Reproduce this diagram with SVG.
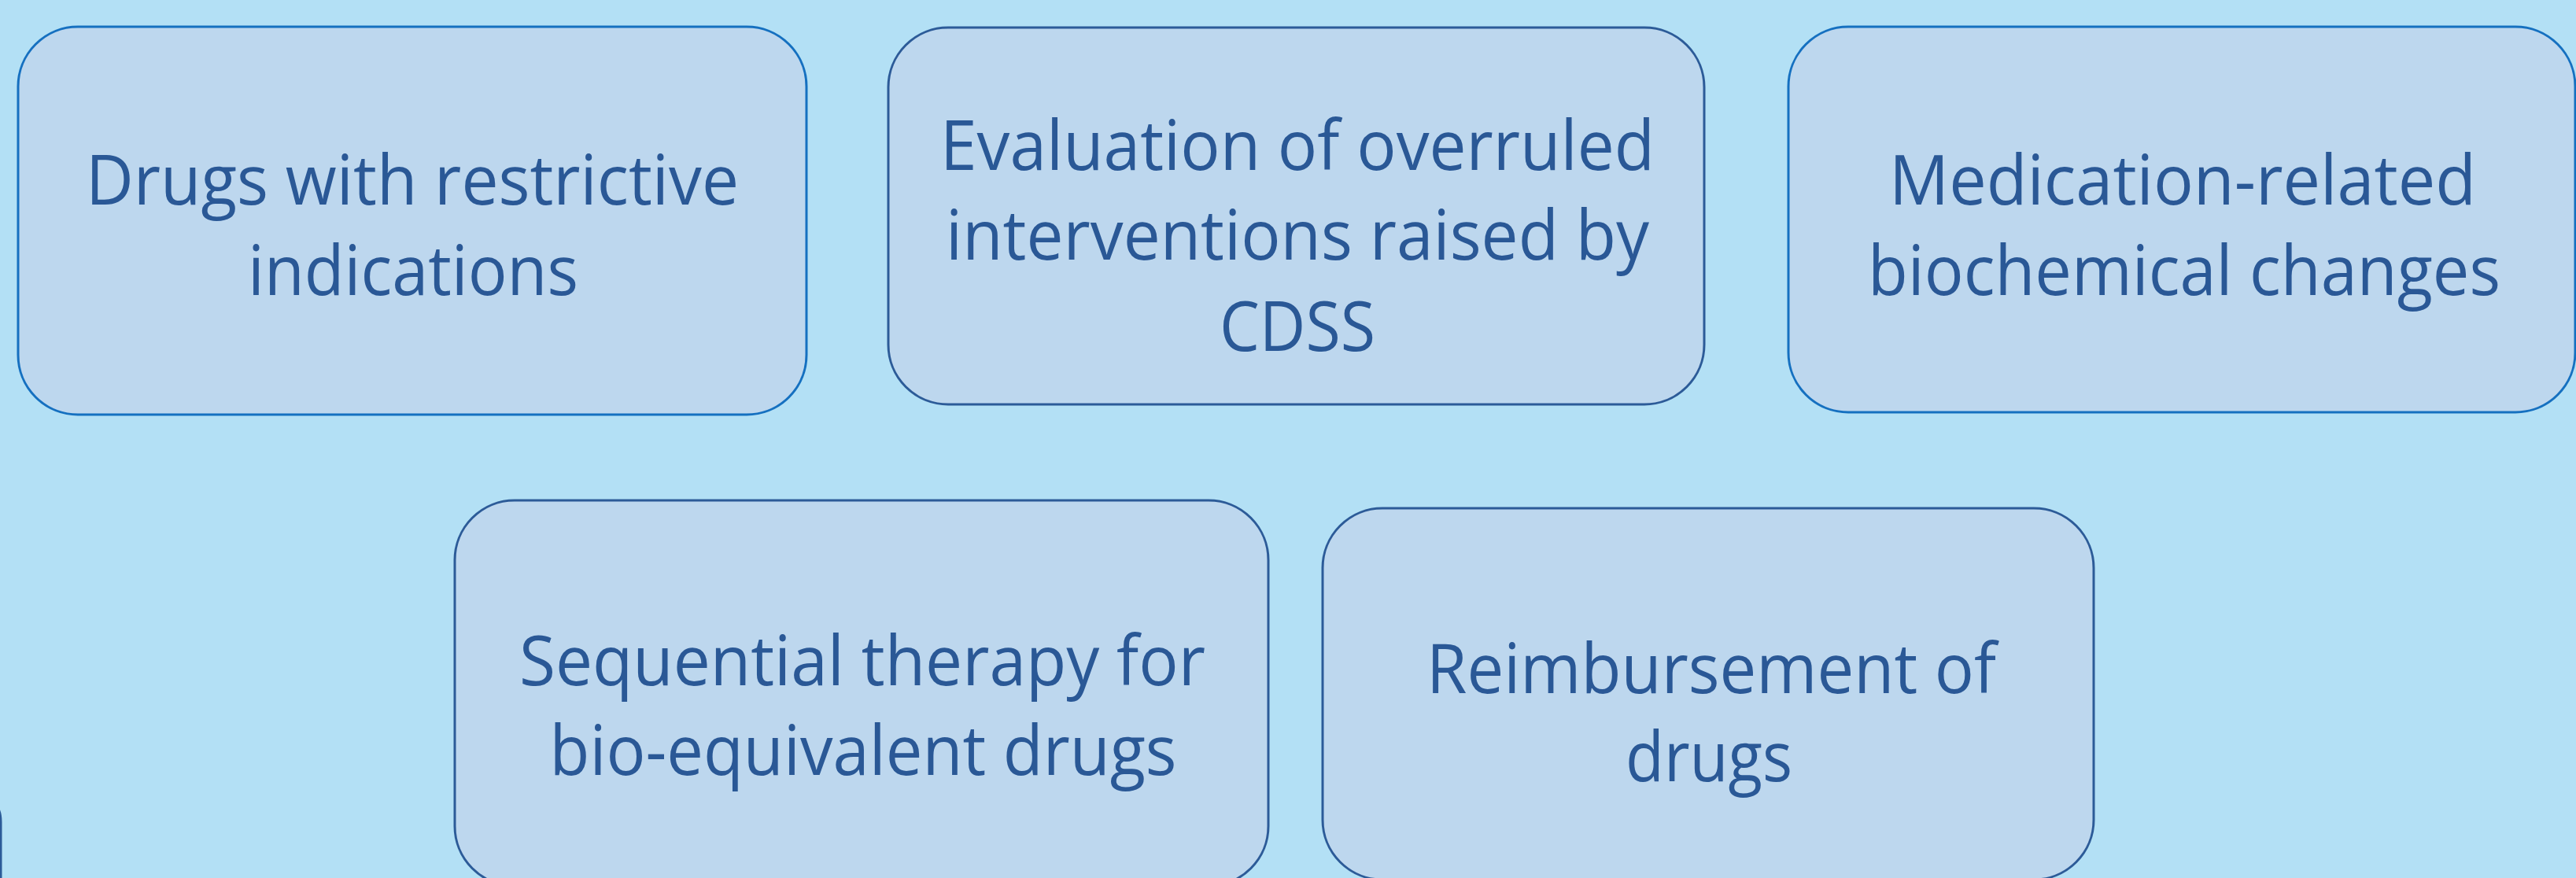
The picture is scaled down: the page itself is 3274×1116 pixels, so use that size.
<svg xmlns="http://www.w3.org/2000/svg" width="3274" height="1116" viewBox="0 0 3274 1116">
<style>
.box{fill:#BDD7EE;stroke-width:3}
.b1{stroke:#1570C0}
.b2{stroke:#2C5B98}
.t{font-family:"Open Sans","Noto Sans","Liberation Sans",sans-serif;font-size:88px;fill:#2A5896;text-anchor:middle}
</style>
<rect width="3274" height="1116" fill="#B3E0F5"/>
<g id="connectors"></g>
<g id="edge-left"><path d="M -12 1021 Q 1 1023 1 1045 V 1120" fill="none" stroke="#2C5B98" stroke-width="3"/></g>
<g id="node1">
<rect class="box b1" x="23" y="34" width="1002" height="493" rx="76" ry="76"/>
<text class="t" x="524" y="260" textLength="830" lengthAdjust="spacingAndGlyphs">Drugs with restrictive</text>
<text class="t" x="525" y="375" textLength="420" lengthAdjust="spacingAndGlyphs">indications</text>
</g>
<g id="node2">
<rect class="box b2" x="1129" y="35" width="1037" height="479" rx="76" ry="76"/>
<text class="t" x="1649" y="216" textLength="908" lengthAdjust="spacingAndGlyphs">Evaluation of overruled</text>
<text class="t" x="1649" y="330" textLength="894" lengthAdjust="spacingAndGlyphs">interventions raised by</text>
<text class="t" x="1649" y="446" textLength="198" lengthAdjust="spacingAndGlyphs">CDSS</text>
</g>
<g id="node3">
<rect class="box b1" x="2273" y="34" width="1000" height="490" rx="76" ry="76"/>
<text class="t" x="2774" y="260" textLength="746" lengthAdjust="spacingAndGlyphs">Medication-related</text>
<text class="t" x="2776" y="375" textLength="804" lengthAdjust="spacingAndGlyphs">biochemical changes</text>
</g>
<g id="node4">
<rect class="box b2" x="578" y="636" width="1034" height="490" rx="76" ry="76"/>
<text class="t" x="1096" y="871" textLength="872" lengthAdjust="spacingAndGlyphs">Sequential therapy for</text>
<text class="t" x="1097" y="985" textLength="797" lengthAdjust="spacingAndGlyphs">bio-equivalent drugs</text>
</g>
<g id="node5">
<rect class="box b2" x="1681" y="646" width="980" height="472" rx="76" ry="76"/>
<text class="t" x="2175" y="881" textLength="724" lengthAdjust="spacingAndGlyphs">Reimbursement of</text>
<text class="t" x="2172" y="993" textLength="212" lengthAdjust="spacingAndGlyphs">drugs</text>
</g>
</svg>
